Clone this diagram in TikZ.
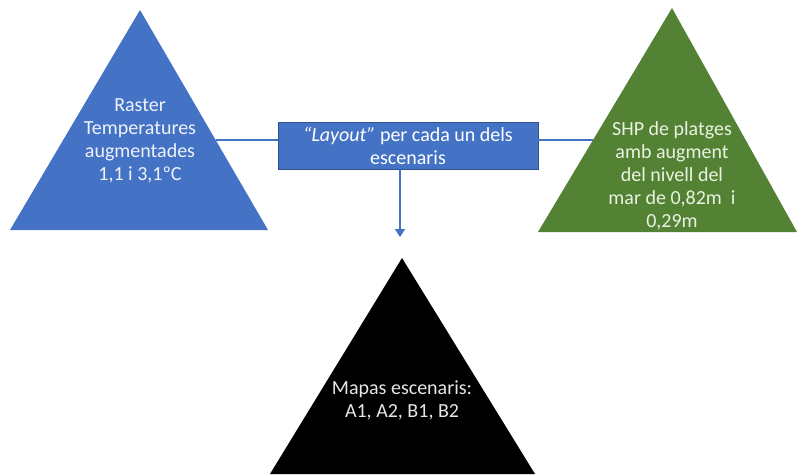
\documentclass[tikz,border=0pt]{standalone}
\usepackage{fontspec}
\setmainfont{Carlito}
\usetikzlibrary{arrows.meta}
\definecolor{tblue}{HTML}{4472C4}
\definecolor{tblueedge}{HTML}{2F528F}
\definecolor{tgreen}{HTML}{548235}
\definecolor{tgrey}{HTML}{E6E6E6}
\definecolor{tbluetext}{HTML}{EEF2FA}
\definecolor{tgreentext}{HTML}{E9F3E2}
\tikzset{
  tritext/.style={align=center, font=\fontsize{20}{23}\selectfont, inner sep=0pt},
  link/.style={draw=tblue, line width=1.6pt},
  boxnode/.style={fill=tblue, draw=tblueedge, line width=0.6pt, minimum width=260pt, minimum height=47pt, align=center, text=white, font=\fontsize{20}{23}\selectfont, inner sep=0pt}
}
\begin{document}
\begin{tikzpicture}[x=1pt,y=-1pt]
\useasboundingbox (0,0) rectangle (798,474);
% left triangle
\coordinate (LA) at (140,10);
\coordinate (LB) at (10,230);
\coordinate (LC) at (268,230);
\fill[tblue] (LA) -- (LB) -- (LC) -- cycle;
\node[tritext, text=tbluetext] (ltext) at (140,141) {Raster\\Temperatures\\augmentades\\1,1 i 3,1ºC};
% right triangle
\coordinate (RA) at (672,8);
\coordinate (RB) at (538,232);
\coordinate (RC) at (797,232);
\fill[tgreen] (RA) -- (RB) -- (RC) -- cycle;
\node[tritext, text=tgreentext] (rtext) at (672,176) {SHP de platges\\amb augment\\del nivell del\\mar de 0,82m\ \ i\\0,29m};
% bottom triangle
\coordinate (BA) at (402,258);
\coordinate (BB) at (270,474);
\coordinate (BC) at (535,474);
\fill[black] (BA) -- (BB) -- (BC) -- cycle;
\node[tritext, text=tgrey] (btext) at (402,400) {Mapas escenaris:\\A1, A2, B1, B2};
% connection points on triangle edges
\coordinate (Ledge) at (215.6,140);
\coordinate (Redge) at (593,140);
\coordinate (arrowend) at (400,237);
% central box
\node[boxnode] (box) at (408,145.5) {\textit{“Layout”} per cada un dels\\escenaris};
\draw[link] (Ledge) -- (Ledge -| box.west);
\draw[link] (Ledge -| box.east) -- (Redge);
\draw[link, -{Triangle[width=10pt,length=8pt]}] (box.south -| arrowend) -- (arrowend);
\end{tikzpicture}
\end{document}
